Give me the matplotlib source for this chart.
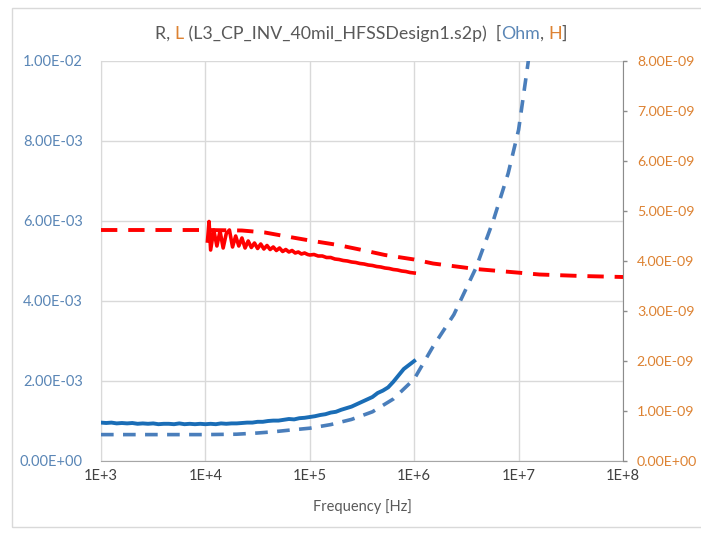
import matplotlib
matplotlib.use("Agg")
import matplotlib.pyplot as plt
from matplotlib.patches import Rectangle
from matplotlib.ticker import FixedLocator, FuncFormatter
import numpy as np

# ---- data -------------------------------------------------------------
# measured resistance (log10 frequency, mOhm)
r_meas_exp = [3.00, 3.05, 3.10, 3.15, 3.20, 3.25, 3.30, 3.35, 3.40, 3.45,
              3.50, 3.55, 3.60, 3.65, 3.70, 3.75, 3.80, 3.85, 3.90, 3.95,
              4.00, 4.05, 4.10, 4.15, 4.20, 4.25, 4.30, 4.35, 4.40, 4.45,
              4.50, 4.55, 4.60, 4.65, 4.70, 4.75, 4.80, 4.85, 4.90, 4.95,
              5.00, 5.05, 5.10, 5.15, 5.20, 5.25, 5.30, 5.35, 5.40, 5.45,
              5.50, 5.55, 5.60, 5.65, 5.70, 5.75, 5.80, 5.85, 5.90, 5.95, 6.00]
r_meas_mohm = [0.96, 0.95, 0.96, 0.94, 0.95, 0.94, 0.95, 0.93, 0.94, 0.93,
               0.94, 0.92, 0.93, 0.93, 0.92, 0.94, 0.92, 0.93, 0.92, 0.93,
               0.92, 0.93, 0.92, 0.94, 0.93, 0.94, 0.94, 0.95, 0.96, 0.96,
               0.98, 0.98, 1.00, 1.01, 1.01, 1.03, 1.05, 1.04, 1.07, 1.08,
               1.10, 1.12, 1.15, 1.17, 1.21, 1.23, 1.28, 1.32, 1.36, 1.42,
               1.48, 1.54, 1.60, 1.70, 1.76, 1.84, 1.98, 2.14, 2.30, 2.40, 2.50]

# simulated resistance
r_sim_exp = [3.00, 3.50, 4.00, 4.30, 4.50, 4.65, 4.80, 5.00, 5.20, 5.40,
             5.60, 5.80, 6.00, 6.18, 6.38, 6.59, 6.76, 6.90, 7.00, 7.09, 7.12]
r_sim_mohm = [0.66, 0.66, 0.66, 0.67, 0.70, 0.73, 0.77, 0.82, 0.91, 1.04,
              1.23, 1.55, 2.05, 2.86, 3.66, 4.82, 6.03, 7.19, 8.28, 9.94, 10.6]

# measured inductance (log10 frequency, nH)
l_meas_exp = [4.020, 4.035, 4.050, 4.080, 4.110, 4.140, 4.170, 4.200, 4.230,
              4.260, 4.290, 4.320, 4.350, 4.380, 4.410, 4.440, 4.470, 4.500,
              4.530, 4.560, 4.590, 4.620, 4.650, 4.680, 4.710, 4.740, 4.770,
              4.800, 4.830, 4.860, 4.890, 4.920, 4.950, 4.980, 5.000,
              5.04, 5.08, 5.12, 5.16, 5.20, 5.24, 5.28, 5.32, 5.36, 5.40,
              5.44, 5.48, 5.52, 5.56, 5.60, 5.64, 5.68, 5.72, 5.76, 5.80,
              5.84, 5.88, 5.92, 5.96, 6.00]
l_meas_nh = [4.40, 4.79, 4.22, 4.62, 4.30, 4.60, 4.26, 4.55, 4.62,
             4.28, 4.50, 4.30, 4.46, 4.26, 4.40, 4.27, 4.36, 4.25,
             4.34, 4.24, 4.31, 4.23, 4.28, 4.21, 4.26, 4.19, 4.23,
             4.18, 4.21, 4.16, 4.18, 4.14, 4.16, 4.13, 4.12,
             4.13, 4.10, 4.10, 4.07, 4.07, 4.04, 4.03, 4.01, 4.00, 3.98,
             3.97, 3.95, 3.94, 3.92, 3.91, 3.89, 3.88, 3.86, 3.85, 3.83,
             3.82, 3.80, 3.79, 3.77, 3.76]

# simulated inductance
l_sim_exp = [3.00, 4.00, 4.35, 4.57, 4.78, 5.00, 5.27, 5.50, 5.72, 6.00,
             6.18, 6.59, 6.98, 7.20, 7.60, 8.00]
l_sim_nh = [4.62, 4.62, 4.61, 4.57, 4.49, 4.41, 4.32, 4.22, 4.12, 4.03,
            3.95, 3.84, 3.77, 3.73, 3.70, 3.68]

x_ticks = [1e3, 1e4, 1e5, 1e6, 1e7, 1e8]
x_tick_labels = ["1E+3", "1E+4", "1E+5", "1E+6", "1E+7", "1E+8"]
r_ticks = [0.0, 2e-3, 4e-3, 6e-3, 8e-3, 1e-2]
l_ticks = [0.0, 1e-9, 2e-9, 3e-9, 4e-9, 5e-9, 6e-9, 7e-9, 8e-9]

# ---- style ------------------------------------------------------------
FONT = ["Lato", "DejaVu Sans"]
plt.rcParams["font.family"] = FONT
GREY_TXT = "#595959"
BLUE_TXT = "#5a86b6"
ORANGE_TXT = "#dd8232"
GRID = "#d9d9d9"
AXIS = "#a6a6a6"

fig = plt.figure(figsize=(7.01, 5.33), dpi=100)
fig.patch.set_facecolor("white")

# chart-area frame
fig.patches.append(Rectangle((12 / 701, 1 - 527 / 533), 700 / 701, 519 / 533,
                             transform=fig.transFigure, fill=False,
                             edgecolor=GRID, linewidth=1.0))

ax = fig.add_axes([101 / 701, 1 - 461 / 533, 522 / 701, 400 / 533])
ax2 = ax.twinx()

f = lambda e: [10 ** v for v in e]

ax.plot(f(r_sim_exp), np.array(r_sim_mohm) * 1e-3, color="#4a7ebb",
        lw=2.6, dashes=(3.5, 2.6), zorder=3)
ax.plot(f(r_meas_exp), np.array(r_meas_mohm) * 1e-3, color="#1a6db6",
        lw=2.8, zorder=4)
ax2.plot(f(l_sim_exp), np.array(l_sim_nh) * 1e-9, color="#ff0000",
         lw=2.8, dashes=(4.2, 2.8), zorder=3)
ax2.plot(f(l_meas_exp), np.array(l_meas_nh) * 1e-9, color="#ff0000",
         lw=2.6, zorder=4)

ax.set_xscale("log")
ax.set_xlim(1e3, 1e8)
ax.set_ylim(0, 1e-2)
ax2.set_ylim(0, 8e-9)

ax.xaxis.set_major_locator(FixedLocator(x_ticks))
ax.xaxis.set_minor_locator(FixedLocator([]))
ax.set_xticklabels(x_tick_labels)
ax.yaxis.set_major_locator(FixedLocator(r_ticks))
ax2.yaxis.set_major_locator(FixedLocator(l_ticks))
ax.yaxis.set_major_formatter(FuncFormatter(lambda v, p: f"{v:.2E}"))
ax2.yaxis.set_major_formatter(FuncFormatter(lambda v, p: f"{v:.2E}"))

ax.grid(True, which="major", color=GRID, lw=1.0)
ax.set_axisbelow(True)

for a in (ax, ax2):
    a.set_facecolor("none")
    for s in a.spines.values():
        s.set_visible(False)

ax.spines["left"].set_visible(True)
ax.spines["left"].set_color(GRID)
ax.spines["bottom"].set_visible(True)
ax.spines["bottom"].set_color(AXIS)
ax2.spines["right"].set_visible(True)
ax2.spines["right"].set_color("#8c8c8c")

ax.tick_params(axis="x", length=0, pad=6, labelsize=10.5, labelcolor="#404040")
ax.tick_params(axis="y", length=0, pad=13, labelsize=10.5, labelcolor=BLUE_TXT)
ax2.tick_params(axis="y", length=3, width=1, color="#8c8c8c", direction="out",
                pad=7, labelsize=10.2, labelcolor=ORANGE_TXT)

ax.set_xlabel("Frequency [Hz]", fontsize=10.5, color=GREY_TXT, labelpad=11)

# multi-coloured title
parts = [("R, ", GREY_TXT), ("L", ORANGE_TXT),
         (" (L3_CP_INV_40mil_HFSSDesign1.s2p)  [", GREY_TXT),
         ("Ohm", BLUE_TXT), (", ", GREY_TXT), ("H", ORANGE_TXT), ("]", GREY_TXT)]
fig.canvas.draw()
renderer = fig.canvas.get_renderer()
texts = []
widths = []
for s, c in parts:
    t = fig.text(0, 0, s, fontsize=12.8, color=c, family=FONT)
    bb = t.get_window_extent(renderer)
    texts.append(t)
    widths.append(bb.width)
total = sum(widths)
x0 = 361 - total / 2
y0 = 533 - 39
for t, w in zip(texts, widths):
    t.set_position((x0 / 701, y0 / 533))
    t.set_transform(fig.transFigure)
    x0 += w

fig.savefig("out.png", dpi=100, facecolor="white")
